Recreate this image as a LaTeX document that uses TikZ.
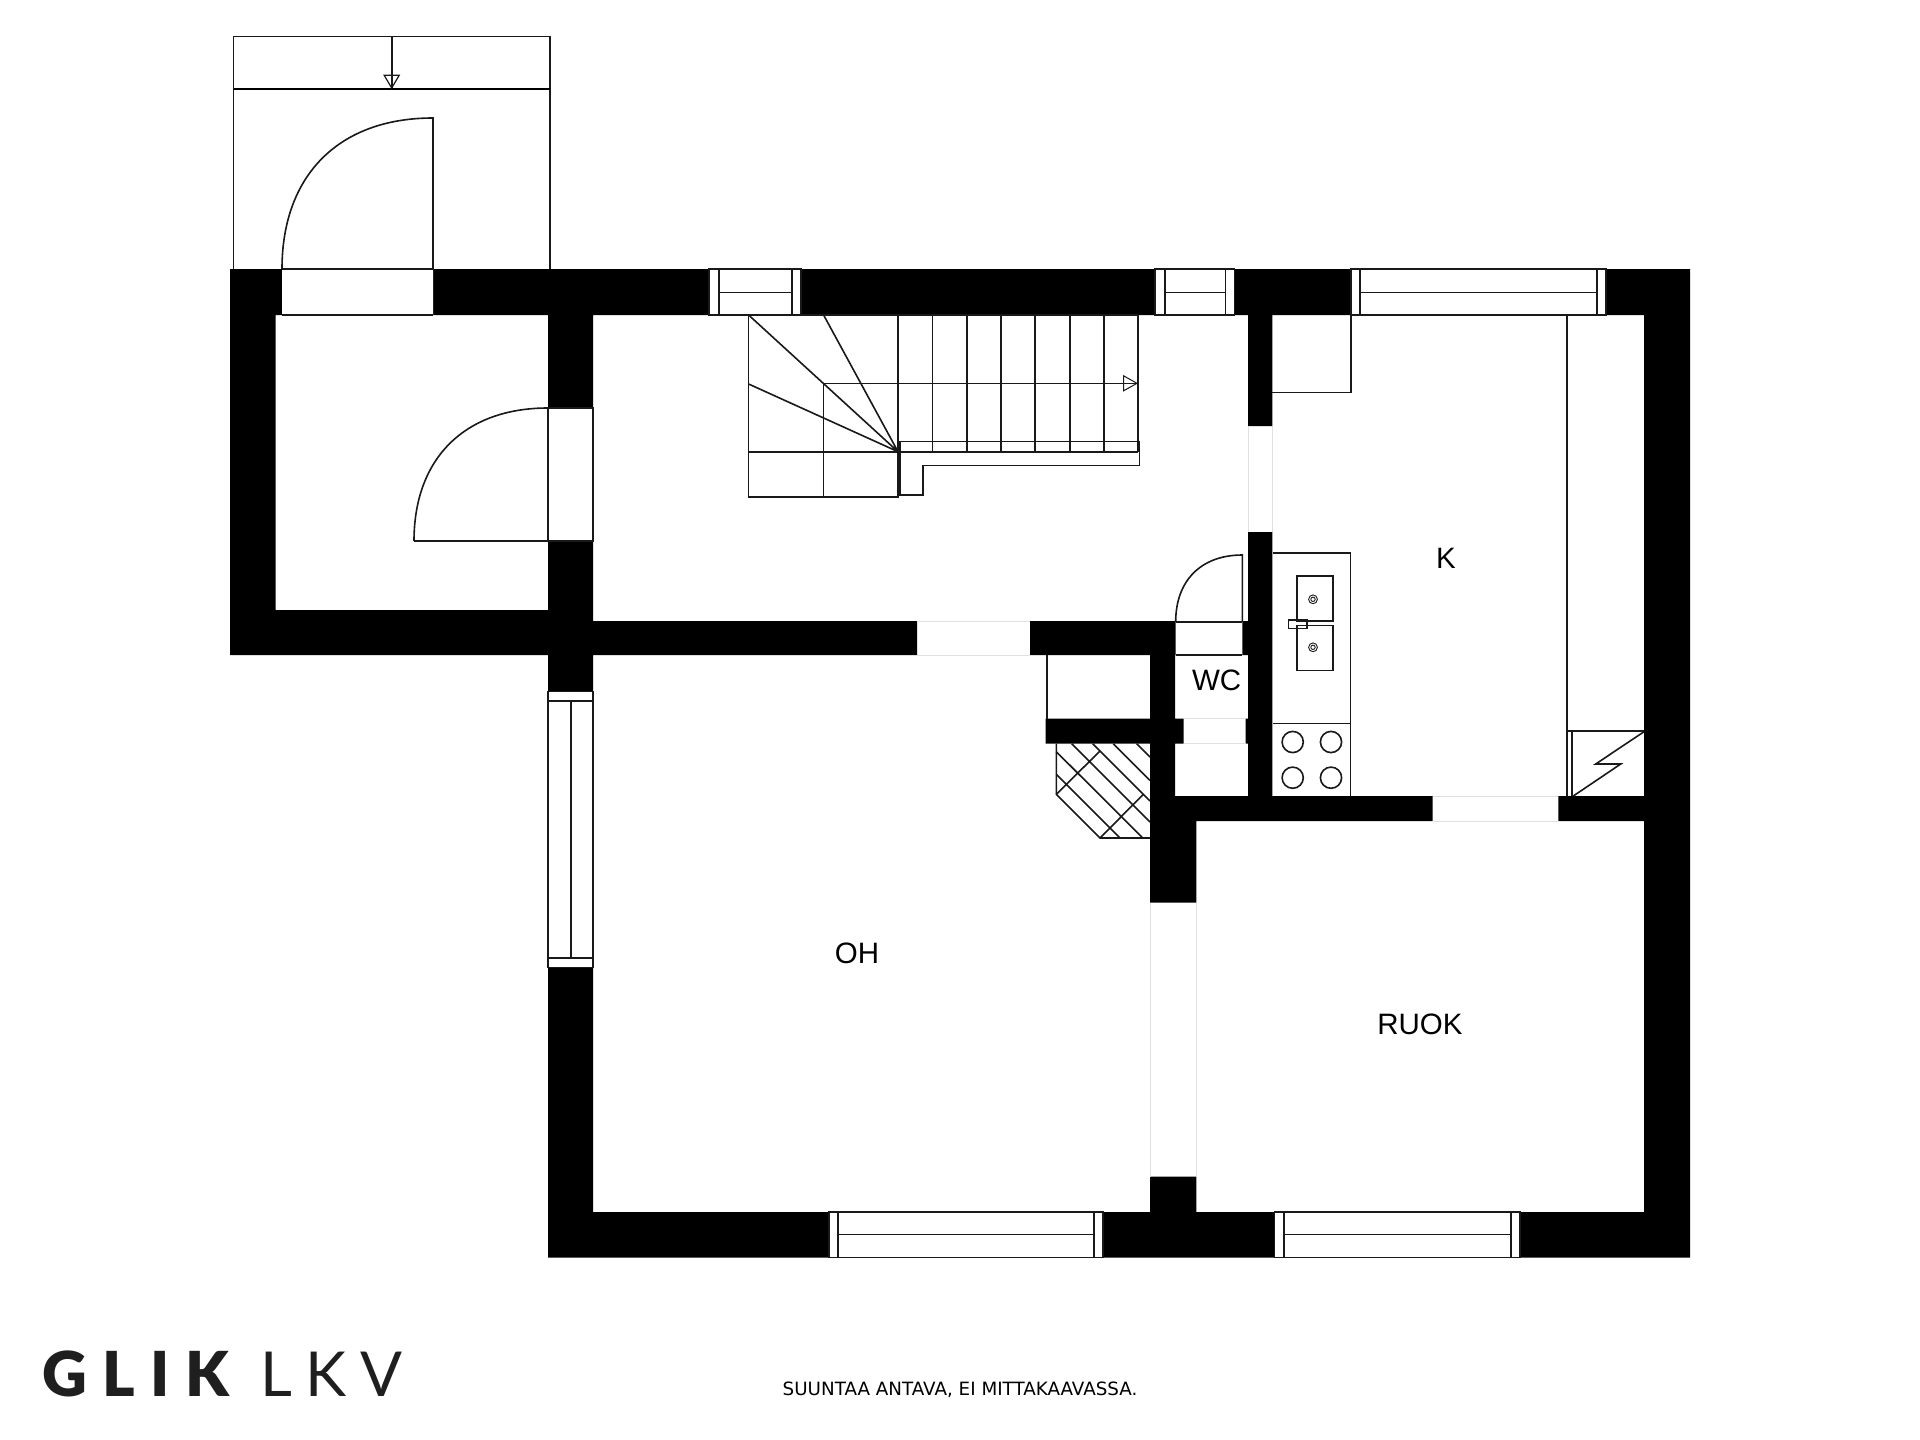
\documentclass[tikz,border=0pt]{standalone}
\usepackage{fontspec}
\setmainfont{Liberation Sans}
\newfontfamily\logobold[LetterSpace=25]{Lato Black}
\newfontfamily\logolight[LetterSpace=22]{Lato}
\newfontfamily\capfont{DejaVu Sans}
\tikzset{
  wallfill/.style={fill=black,draw=none},
  gapfill/.style={fill=white,draw=none},
  fineline/.style={draw=black!90,line width=1.6pt,line join=miter},
  heavyline/.style={draw=black,line width=2.2pt},
  faintline/.style={draw=black!12,line width=0.8pt},
  roomlabel/.style={inner sep=0pt,font=\fontsize{29.5}{29.5}\selectfont,text=black},
}
\begin{document}
\begin{tikzpicture}[x=1pt,y=-1pt]
\useasboundingbox (0,0) rectangle (1920,1440);
\fill[white] (0,0) rectangle (1920,1440);
% walls
\path[wallfill]
  (230,269) rectangle (1350.7,315)
  (1606,269) rectangle (1690,315)
  (230,269) rectangle (275.7,655)
  (230,610) rectangle (548,655)
  (548,315) rectangle (593,408)
  (548,541) rectangle (593,691.6)
  (593,621) rectangle (917,655)
  (1030,621) rectangle (1248,655)
  (1248,315) rectangle (1272.3,426)
  (1248,532) rectangle (1272.3,796)
  (1150,655) rectangle (1175,796)
  (1150,796) rectangle (1196.3,902.5)
  (1150,1176.7) rectangle (1196.3,1212)
  (1045.7,718.7) rectangle (1183.7,743.7)
  (1245.7,718.7) rectangle (1248,743.7)
  (1150,796) rectangle (1432.7,821)
  (1558.3,796) rectangle (1644,821)
  (1644,269) rectangle (1690,1257.5)
  (548,1212) rectangle (829,1257.5)
  (1103,1212) rectangle (1274.6,1257.5)
  (1520,1212) rectangle (1690,1257.5)
  (548,967.5) rectangle (593,1257.5);
% openings cut in the walls
\path[gapfill]
  (282,269) rectangle (433,315)
  (709.2,269) rectangle (801,315)
  (1155,269) rectangle (1234.6,315)
  (1175.7,621.7) rectangle (1242.3,655);
% faint outlines of plain openings
\draw[faintline] (917,621) -- (1030,621) (917,655) -- (1030,655);
\draw[faintline] (1150,902.5) -- (1150,1176.7) (1196.3,902.5) -- (1196.3,1176.7);
\draw[faintline] (1248,426) -- (1248,532) (1272.3,426) -- (1272.3,532);
\draw[faintline] (1433,796) -- (1558,796) (1433,821) -- (1558,821);
\draw[faintline] (1184,718.7) -- (1245.7,718.7) (1184,743.7) -- (1245.7,743.7);
% porch and steps
\draw[fineline] (233.5,269) -- (233.5,36.5) -- (549.7,36.5) -- (549.7,269);
\draw[heavyline] (233.5,89) -- (549.7,89);
\draw[fineline] (391.7,36.5) -- (391.7,88);
\draw[fineline,line width=1.2pt] (384.2,75.3) -- (399.2,75.3) -- (391.7,88) -- cycle;
% entrance door
\draw[fineline] (282,269) -- (433,269) (282,315) -- (433,315);
\draw[fineline] (282,269) .. controls (282,175) and (339,118) .. (433,118) -- (433,269);
% inner door
\draw[fineline] (548,408) -- (593,408) -- (593,541) -- (548,541) -- cycle;
\draw[fineline] (414,541) -- (548,541) (548,408) .. controls (465,408) and (414,458) .. (414,541);
% windows, top wall
\draw[fineline] (709.2,269) rectangle (801,315) (718.9,269) -- (718.9,315) (791.7,269) -- (791.7,315) (718.9,292.3) -- (791.7,292.3);
\draw[fineline] (1155,269) rectangle (1234.6,315) (1164.7,269) -- (1164.7,315) (1225.3,269) -- (1225.3,315) (1164.7,292.3) -- (1225.3,292.3);
\draw[fineline] (1350.7,269) rectangle (1606,315) (1360,269) -- (1360,315) (1596.7,269) -- (1596.7,315) (1360,292.6) -- (1596.7,292.6);
% window, left wall
\draw[fineline] (548,691.6) rectangle (593,967.5) (548,701) -- (593,701) (548,958) -- (593,958) (570.7,701) -- (570.7,958);
% windows, bottom wall
\draw[fineline] (829,1212) rectangle (1103,1257.5) (837.8,1212) -- (837.8,1257.5) (1093.7,1212) -- (1093.7,1257.5) (837.8,1234.3) -- (1093.7,1234.3);
\draw[fineline] (1274.6,1212) rectangle (1520,1257.5) (1284.2,1212) -- (1284.2,1257.5) (1511,1212) -- (1511,1257.5) (1284.2,1234.3) -- (1511,1234.3);
% stairs
\draw[fineline] (748.6,315) rectangle (898.2,496.7);
\draw[fineline] (748.6,451.7) -- (1137.8,451.7) (823.6,383.3) -- (823.6,496.7);
\draw[fineline] (898.2,315) -- (1137.8,315);
\foreach \tx in {932.3,966.7,1001.2,1035.2,1069.7,1103.7,1137.8} \draw[fineline] (\tx,315) -- (\tx,451.7);
\draw[fineline] (748.6,315) -- (898,451.7) (823.6,315) -- (898,451.7) (748.6,384) -- (898,451.7);
\draw[fineline] (823.6,383.3) -- (1137,383.3);
\draw[fineline,line width=1pt] (1123.6,375.8) -- (1137,383.3) -- (1123.6,390.8) -- cycle;
\draw[fineline] (899.8,441.3) -- (1139.3,441.3) -- (1139.3,465.3) -- (923.1,465.3) -- (923.1,495) -- (899.8,495) -- cycle;
% closet lines and hearth
\draw[fineline] (1046.7,655) -- (1046.7,718.7);
\draw[fineline] (1175.7,621.7) -- (1242.3,621.7) (1175.7,655) -- (1242.3,655);
\draw[fineline] (1175.7,621.7) .. controls (1175.7,580.7) and (1201,555) .. (1242.3,555) -- (1242.3,621.7);
\draw[fineline] (1056.3,743.7) -- (1056.3,794.3) -- (1100,838) -- (1150,838);
\draw[fineline] (1056.3,774.3) -- (1120,838) (1056.3,751.7) -- (1142.7,838)
  (1071.7,743.7) -- (1150,822) (1092.7,743.7) -- (1150,801) (1113.3,743.7) -- (1150,780.4) (1136.7,743.7) -- (1150,757)
  (1056.3,794.3) -- (1099.3,751.7) (1100,838) -- (1142.7,795);
% kitchen fittings
\draw[fineline] (1272.3,392.4) -- (1350.7,392.4) -- (1350.7,315);
\draw[fineline] (1273,553) -- (1350.3,553) -- (1350.3,796) (1273,723.5) -- (1350.3,723.5);
\draw[fineline] (1296.7,575.9) rectangle (1333,620.7) (1296.7,625.4) rectangle (1333,670.3);
\draw[fineline] (1288.3,620) rectangle (1306.7,628.3);
\foreach \dy in {599.3,647.3} {
  \draw[fineline,line width=0.9pt] (1313,\dy) circle[radius=4.4pt];
  \draw[fineline,line width=0.9pt] (1313,\dy) circle[radius=2.2pt];
}
\foreach \bx in {1292.7,1331} \foreach \by in {742,777.7}
  \draw[fineline] (\bx,\by) circle[radius=10.6pt];
\draw[fineline] (1566.7,315) -- (1566.7,796) (1566.7,731) -- (1644,731) (1572,731) -- (1572,796);
\draw[fineline] (1644,731.7) -- (1595.7,764) -- (1620.7,764) -- (1573.3,796);
% labels
\node[roomlabel] (labelK) at (1446,558) {K};
\node[roomlabel] (labelWC) at (1216.7,680) {WC};
\node[roomlabel] (labelOH) at (857,953) {OH};
\node[roomlabel] (labelRUOK) at (1420,1024) {RUOK};
\node[anchor=base west,inner sep=0pt,text=black!88,font=\logobold\fontsize{62}{62}\selectfont] (logoA) at (42,1396.5) {GLIK};
\node[anchor=base west,inner sep=0pt,text=black!88,font=\logolight\fontsize{62}{62}\selectfont] (logoB) at (260,1396.5) {LKV};
\node[inner sep=0pt,text=black,font=\capfont\fontsize{18.3}{18.3}\selectfont] (caption) at (960,1390) {SUUNTAA ANTAVA, EI MITTAKAAVASSA.};
\end{tikzpicture}
\end{document}
